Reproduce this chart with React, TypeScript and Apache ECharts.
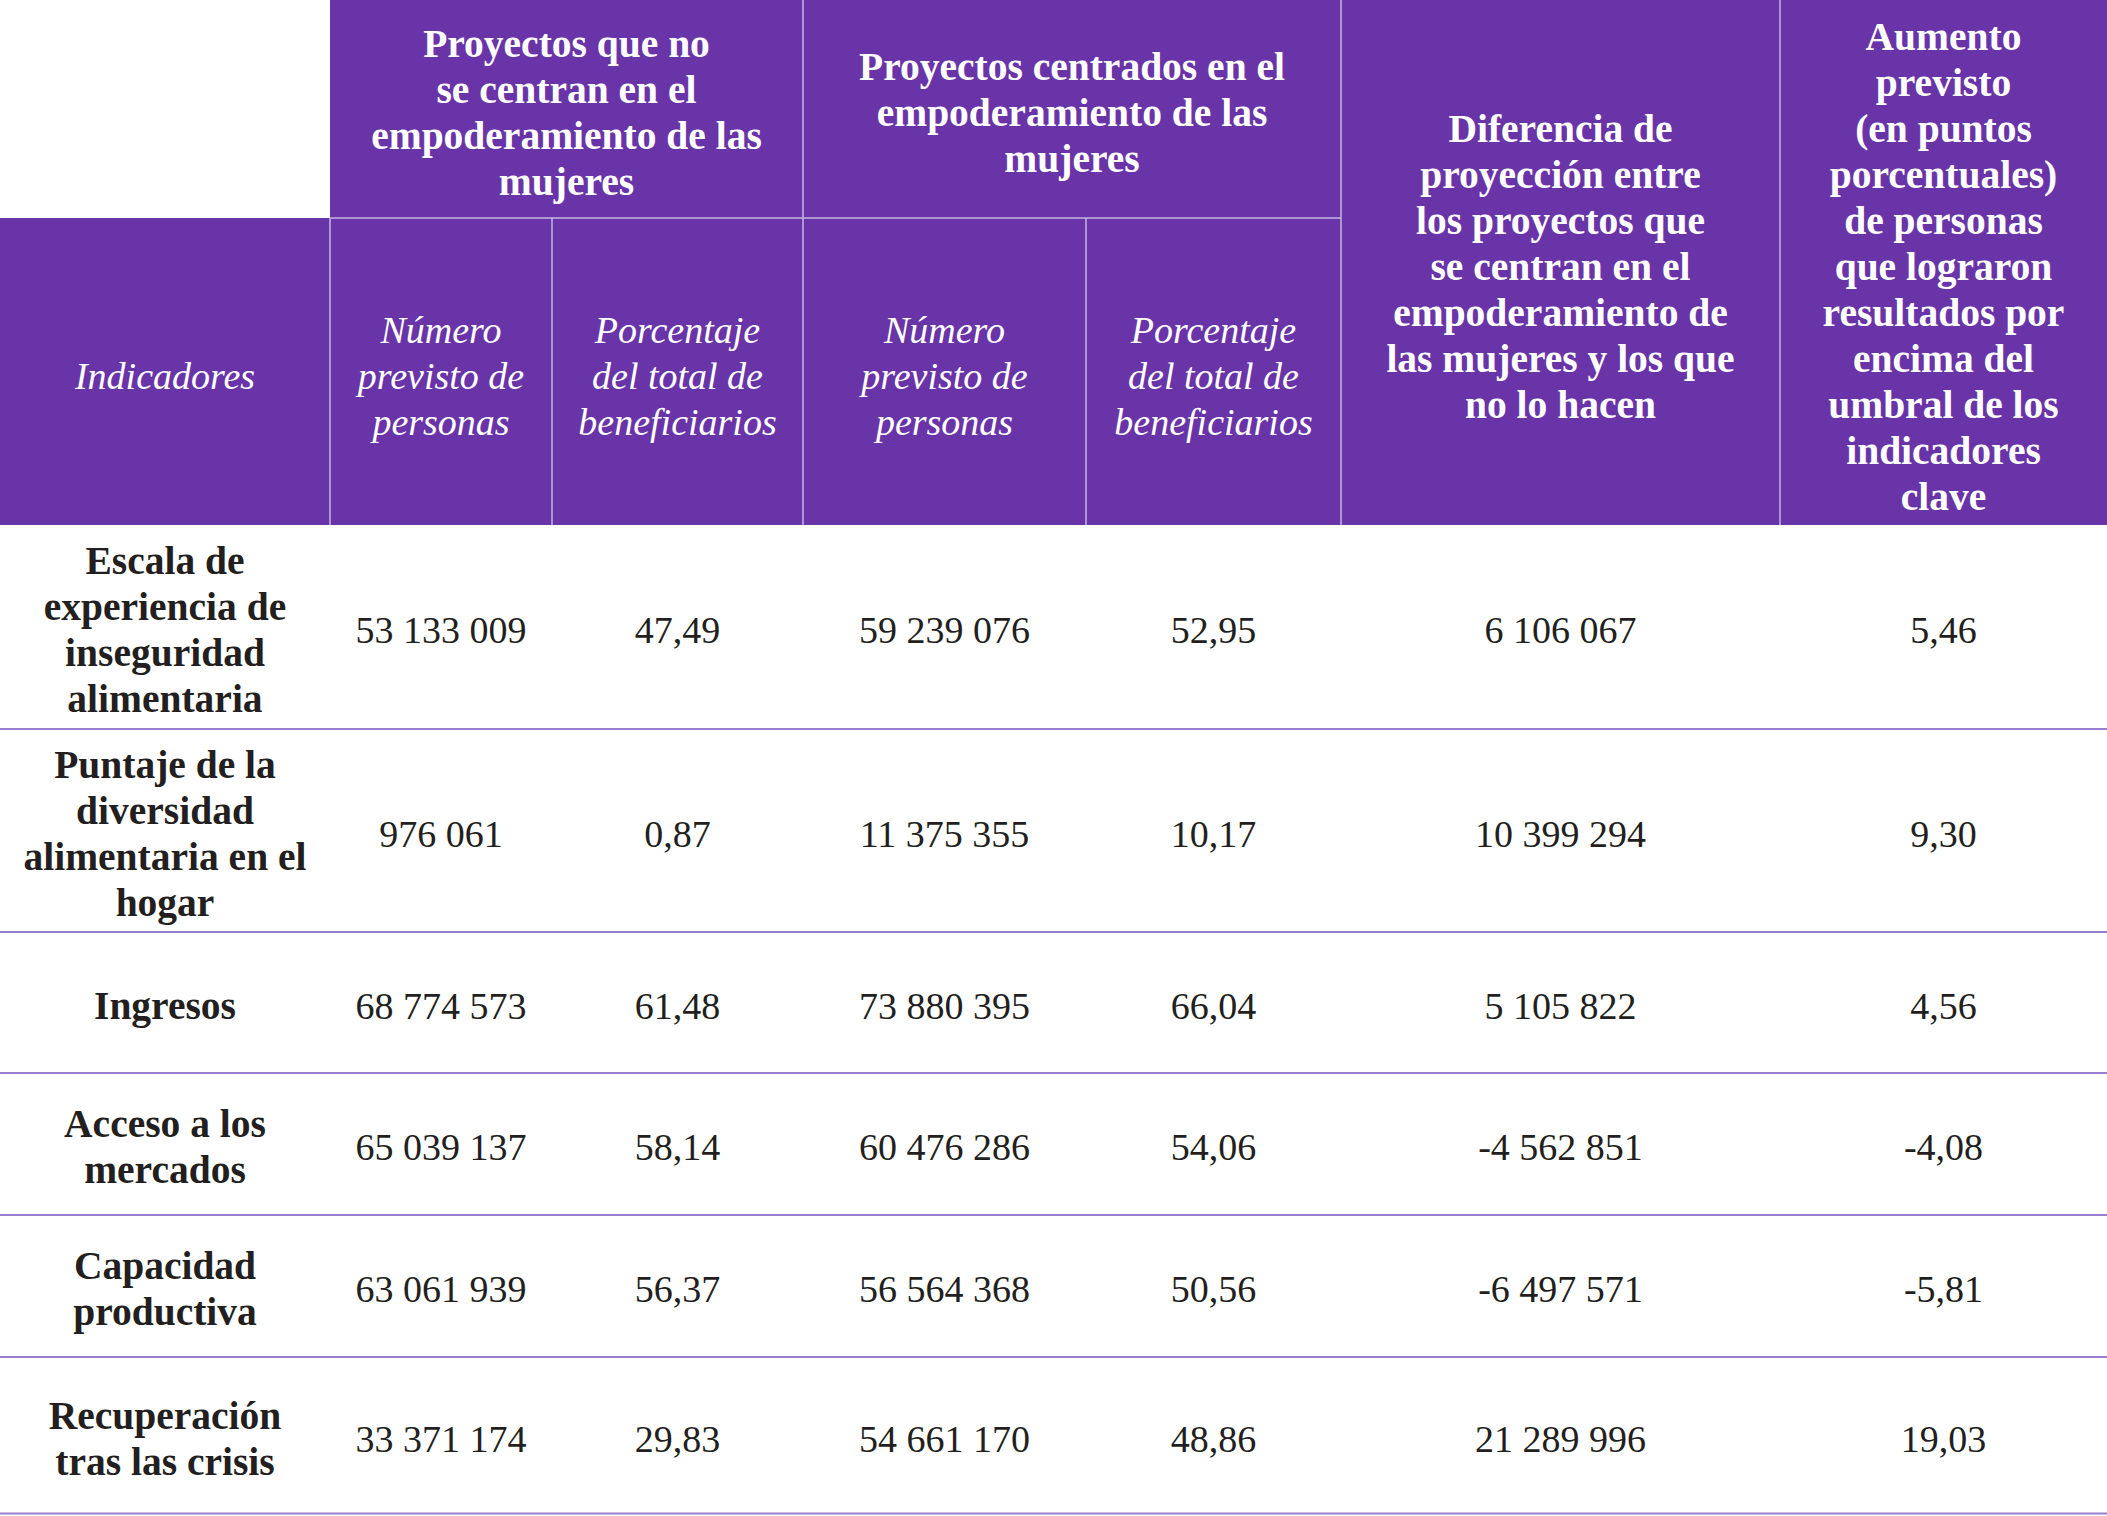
import React, { useEffect, useRef } from "react";
import * as echarts from "echarts";

const indicators = [
  "Escala de\nexperiencia de\ninseguridad\nalimentaria",
  "Puntaje de la\ndiversidad\nalimentaria en el\nhogar",
  "Ingresos",
  "Acceso a los\nmercados",
  "Capacidad\nproductiva",
  "Recuperación\ntras las crisis",
];
const countNotFocused = [53133009, 976061, 68774573, 65039137, 63061939, 33371174];
const pctNotFocused = [47.49, 0.87, 61.48, 58.14, 56.37, 29.83];
const countFocused = [59239076, 11375355, 73880395, 60476286, 56564368, 54661170];
const pctFocused = [52.95, 10.17, 66.04, 54.06, 50.56, 48.86];
const difference = [6106067, 10399294, 5105822, -4562851, -6497571, 21289996];
const increasePts = [5.46, 9.3, 4.56, -4.08, -5.81, 19.03];

const groupHeaders = [
  "Proyectos que no\nse centran en el\nempoderamiento de las\nmujeres",
  "Proyectos centrados en el\nempoderamiento de las\nmujeres",
];
const subHeaders = [
  "Indicadores",
  "Número\nprevisto de\npersonas",
  "Porcentaje\ndel total de\nbeneficiarios",
  "Número\nprevisto de\npersonas",
  "Porcentaje\ndel total de\nbeneficiarios",
];
const tallHeaders = [
  "Diferencia de\nproyección entre\nlos proyectos que\nse centran en el\nempoderamiento de\nlas mujeres y los que\nno lo hacen",
  "Aumento\nprevisto\n(en puntos\nporcentuales)\nde personas\nque lograron\nresultados por\nencima del\numbral de los\nindicadores\nclave",
];

// layout
const W = 2107;
const H = 1516;
const colX = [0, 330, 552, 803, 1086, 1341, 1780, 2107];
const headMid = 218;
const headBottom = 525;
const rowY = [525, 729, 932, 1073, 1215, 1357, 1515];

const PURPLE = "#6A34A9";
const HEAD_LINE = "#C7B5E3";
const ROW_LINE = "#9A7CCF";
const TEXT = "#231F20";
const FF = '"Liberation Serif", serif';
const FS = 38;
const FS_BOLD = 39.5;
const LH = 46;

const fmtInt = (v: number) => {
  const s = Math.abs(v).toString().replace(/\B(?=(\d{3})+(?!\d))/g, " ");
  return (v < 0 ? "-" : "") + s;
};
const fmtDec = (v: number) => (v < 0 ? "-" : "") + Math.abs(v).toFixed(2).replace(".", ",");

function txt(text: string, x: number, y: number, fill: string, weight: string, style: string) {
  return {
    type: "text",
    silent: true,
    z: 10,
    style: {
      text,
      x,
      y,
      fill,
      fontSize: weight === "bold" ? FS_BOLD : FS,
      fontFamily: FF,
      fontWeight: weight,
      fontStyle: style,
      lineHeight: LH,
      align: "center",
      verticalAlign: "middle",
    },
  };
}
function ln(x1: number, y1: number, x2: number, y2: number, stroke: string, w: number) {
  return { type: "line", silent: true, z: 5, shape: { x1, y1, x2, y2 }, style: { stroke, lineWidth: w } };
}

export default function App() {
  const ref = useRef<HTMLDivElement>(null);
  useEffect(() => {
    document.body.style.margin = "0";
    if (!ref.current) return;
    const chart = echarts.init(ref.current, null, { renderer: "svg" });
    const els: any[] = [];
    const cx = (i: number) => (colX[i] + colX[i + 1]) / 2;

    // header backgrounds
    els.push({ type: "rect", silent: true, z: 1, shape: { x: colX[1], y: 0, width: W - colX[1], height: headBottom }, style: { fill: PURPLE } });
    els.push({ type: "rect", silent: true, z: 1, shape: { x: 0, y: headMid, width: colX[1], height: headBottom - headMid }, style: { fill: PURPLE } });

    // header lines
    els.push(ln(colX[1], headMid, colX[5], headMid, HEAD_LINE, 1.5));
    els.push(ln(colX[1], headMid, colX[1], headBottom, HEAD_LINE, 1.5));
    els.push(ln(colX[2], headMid, colX[2], headBottom, HEAD_LINE, 1.5));
    els.push(ln(colX[3], 0, colX[3], headBottom, HEAD_LINE, 1.5));
    els.push(ln(colX[4], headMid, colX[4], headBottom, HEAD_LINE, 1.5));
    els.push(ln(colX[5], 0, colX[5], headBottom, HEAD_LINE, 1.5));
    els.push(ln(colX[6], 0, colX[6], headBottom, HEAD_LINE, 1.5));

    // header texts
    els.push(txt(groupHeaders[0], (colX[1] + colX[3]) / 2, headMid / 2 + 4, "#fff", "bold", "normal"));
    els.push(txt(groupHeaders[1], (colX[3] + colX[5]) / 2, headMid / 2 + 4, "#fff", "bold", "normal"));
    subHeaders.forEach((h, i) => {
      els.push(txt(h, cx(i), (headMid + headBottom) / 2 + 4, "#fff", "normal", "italic"));
    });
    tallHeaders.forEach((h, i) => {
      els.push(txt(h, cx(5 + i), headBottom / 2 + 4, "#fff", "bold", "normal"));
    });

    // body rows
    indicators.forEach((name, r) => {
      const y = (rowY[r] + rowY[r + 1]) / 2 + 3;
      const cells = [
        fmtInt(countNotFocused[r]),
        fmtDec(pctNotFocused[r]),
        fmtInt(countFocused[r]),
        fmtDec(pctFocused[r]),
        fmtInt(difference[r]),
        fmtDec(increasePts[r]),
      ];
      els.push(txt(name, cx(0), y, TEXT, "bold", "normal"));
      cells.forEach((c, i) => els.push(txt(c, cx(i + 1), y, TEXT, "normal", "normal")));
      const ly = rowY[r + 1] - (r === indicators.length - 1 ? 1.5 : 0);
      els.push(ln(0, ly, W, ly, ROW_LINE, 2));
    });

    chart.setOption({
      animation: false,
      backgroundColor: "#ffffff",
      graphic: { elements: els },
    });
    return () => chart.dispose();
  }, []);
  return <div ref={ref} style={{ width: W, height: H }} />;
}
